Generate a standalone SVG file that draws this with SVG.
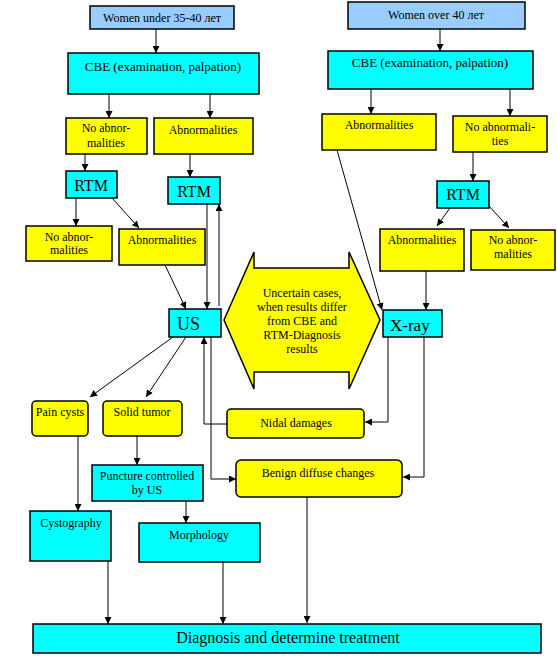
<svg xmlns="http://www.w3.org/2000/svg" width="557" height="656" viewBox="0 0 557 656">
<defs>
<marker id="ah" viewBox="0 0 8 8" refX="8" refY="4" markerWidth="7" markerHeight="7" markerUnits="userSpaceOnUse" orient="auto">
<path d="M0,0 L8,4 L0,8 z" fill="#000"/>
</marker>
</defs>
<style>
.b{stroke:#000;stroke-width:1.5}
.blue{fill:#99ccff}
.cy{fill:#00ffff}
.ye{fill:#ffff00}
text{font-family:'Liberation Serif',serif;font-size:12px;fill:#000;text-anchor:middle}
.big{font-size:16px}
.xl{font-size:18px;text-anchor:start}
.dia{font-size:16px}
#connectors line,#connectors polyline{stroke:#000;stroke-width:1;fill:none;marker-end:url(#ah)}
</style>
<rect width="557" height="656" fill="#fff"/>
<g id="connectors">
<line x1="156" y1="29" x2="156" y2="53"/>
<line x1="440" y1="29" x2="440" y2="51"/>
<line x1="109" y1="94" x2="109" y2="118"/>
<line x1="210" y1="94" x2="210" y2="118"/>
<line x1="371" y1="89" x2="371" y2="114"/>
<line x1="510" y1="89" x2="510" y2="116"/>
<line x1="85" y1="154" x2="85" y2="171"/>
<line x1="190" y1="154" x2="190" y2="177"/>
<line x1="473" y1="152" x2="473" y2="181"/>
<line x1="76" y1="198" x2="76" y2="226"/>
<line x1="112" y1="198" x2="139" y2="228"/>
<line x1="450" y1="208" x2="437" y2="226"/>
<line x1="489" y1="206" x2="509" y2="228"/>
<line x1="165" y1="265" x2="186" y2="309"/>
<line x1="207" y1="204" x2="207" y2="309"/>
<line x1="219" y1="306" x2="219" y2="204"/>
<line x1="337" y1="150" x2="382" y2="310"/>
<line x1="426" y1="271" x2="426" y2="310"/>
<polyline points="388,337 388,422 365,422"/>
<polyline points="424,337 424,477 403,477"/>
<polyline points="227,424 204,424 204,337"/>
<polyline points="211,337 211,479 236,479"/>
<line x1="173" y1="337" x2="90" y2="397"/>
<line x1="186" y1="337" x2="146" y2="397"/>
<line x1="137" y1="436" x2="137" y2="465"/>
<line x1="78" y1="436" x2="78" y2="511"/>
<line x1="186" y1="501" x2="186" y2="523"/>
<line x1="108" y1="561" x2="108" y2="624"/>
<line x1="223" y1="562" x2="223" y2="624"/>
<line x1="307" y1="497" x2="307" y2="623"/>
</g>
<g font-family="Liberation Serif, serif">
<g id="women-under"><rect class="b blue" x="90" y="6" width="144" height="23"/><text x="162" y="22">Women under 35-40 лет</text></g>
<g id="women-over"><rect class="b blue" x="348" y="2" width="177" height="27"/><text x="436" y="19">Women over 40 лет</text></g>
<g id="cbe-left"><rect class="b cy" x="68" y="53" width="191" height="41"/><text x="163" y="71" style="font-size:13px">CBE (examination, palpation)</text></g>
<g id="cbe-right"><rect class="b cy" x="328" y="51" width="205" height="38"/><text x="430" y="67" style="font-size:13px">CBE (examination, palpation)</text></g>
<g id="noabn-left1"><rect class="b ye" x="66" y="118" width="81" height="36"/><text x="106" y="132">No abnor-</text><text x="106" y="147">malities</text></g>
<g id="abn-left1"><rect class="b ye" x="154" y="118" width="99" height="36"/><text x="203" y="134">Abnormalities</text></g>
<g id="abn-right1"><rect class="b ye" x="322" y="114" width="114" height="36"/><text x="379" y="129">Abnormalities</text></g>
<g id="noabn-right1"><rect class="b ye" x="453" y="116" width="94" height="36"/><text x="500" y="131">No abnormali-</text><text x="500" y="145">ties</text></g>
<g id="rtm-left"><rect class="b cy" x="66" y="171" width="51" height="27"/><text class="big" x="91" y="191">RTM</text></g>
<g id="rtm-mid"><rect class="b cy" x="168" y="177" width="52" height="27"/><text class="big" x="194" y="197">RTM</text></g>
<g id="rtm-right"><rect class="b cy" x="437" y="181" width="52" height="27"/><text class="big" x="463" y="200">RTM</text></g>
<g id="noabn-left2"><rect class="b ye" x="26" y="226" width="86" height="35"/><text x="69" y="241">No abnor-</text><text x="69" y="254">malities</text></g>
<g id="abn-left2"><rect class="b ye" x="119" y="229" width="86" height="36"/><text x="162" y="244">Abnormalities</text></g>
<g id="abn-right2"><rect class="b ye" x="380" y="229" width="84" height="42"/><text x="422" y="244">Abnormalities</text></g>
<g id="noabn-right2"><rect class="b ye" x="471" y="230" width="84" height="40"/><text x="513" y="244">No abnor-</text><text x="513" y="258">malities</text></g>
<g id="uncertain"><polygon class="b ye" points="224,320 254,252 254,268 349,268 349,252 380,320 349,389 349,372 254,372 254,389"/>
<text x="302" y="297">Uncertain cases,</text><text x="302" y="311">when results differ</text><text x="302" y="325">from CBE and</text><text x="302" y="339">RTM-Diagnosis</text><text x="302" y="353">results</text></g>
<g id="us"><rect class="b cy" x="169" y="309" width="52" height="28"/><text class="xl" x="177" y="330">US</text></g>
<g id="xray"><rect class="b cy" x="383" y="310" width="59" height="27"/><text class="xl" x="390" y="331" style="font-size:17px">X-ray</text></g>
<g id="pain-cysts"><rect class="b ye" x="32" y="401" width="56" height="35" rx="4"/><text x="60" y="416">Pain cysts</text></g>
<g id="solid-tumor"><rect class="b ye" x="103" y="401" width="79" height="35" rx="4"/><text x="142" y="416">Solid tumor</text></g>
<g id="nidal"><rect class="b ye" x="227" y="409" width="137" height="29" rx="4"/><text x="296" y="427">Nidal damages</text></g>
<g id="benign"><rect class="b ye" x="236" y="460" width="166" height="37" rx="5"/><text x="318" y="477">Benign diffuse changes</text></g>
<g id="puncture"><rect class="b cy" x="92" y="465" width="111" height="36"/><text x="147" y="480">Puncture controlled</text><text x="147" y="494">by US</text></g>
<g id="cystography"><rect class="b cy" x="30" y="511" width="81" height="50"/><text x="71" y="527">Cystography</text></g>
<g id="morphology"><rect class="b cy" x="139" y="523" width="121" height="39"/><text x="199" y="539">Morphology</text></g>
<g id="diagnosis"><rect class="b cy" x="33" y="624" width="508" height="29"/><text class="dia" x="288" y="643">Diagnosis and determine treatment</text></g>
</g>
</svg>
